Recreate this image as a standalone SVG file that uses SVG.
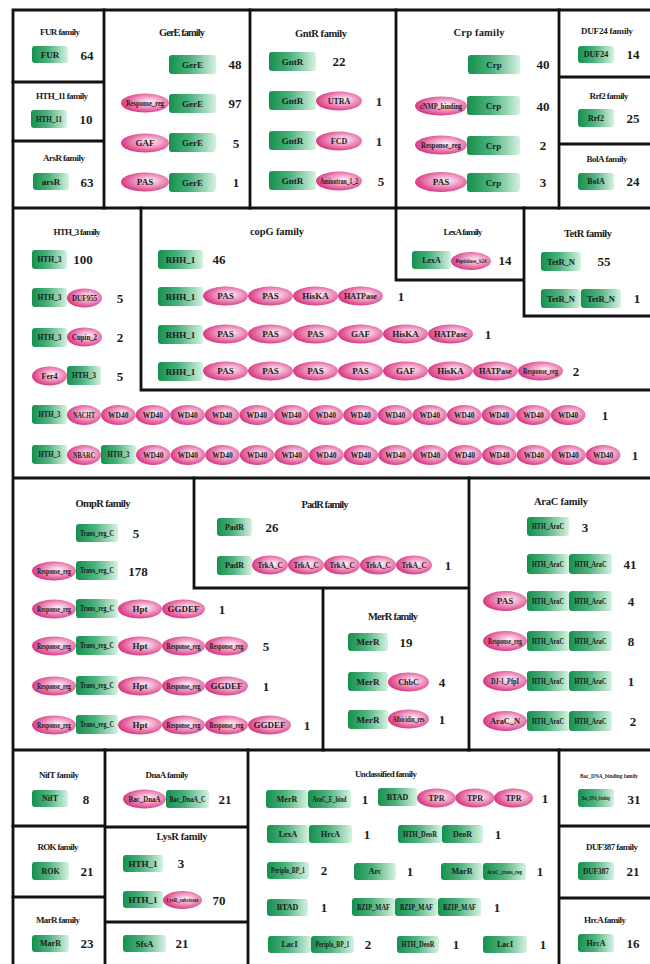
<svg xmlns="http://www.w3.org/2000/svg" width="650" height="964" viewBox="0 0 650 964">
<defs>
<linearGradient id="gg" x1="0" y1="0" x2="1" y2="0">
<stop offset="0" stop-color="#16904e"/>
<stop offset="0.45" stop-color="#4cb27c"/>
<stop offset="1" stop-color="#d6f2e2"/>
</linearGradient>
<radialGradient id="pg" cx="0.58" cy="0.45" r="0.6" fx="0.6" fy="0.42">
<stop offset="0" stop-color="#fdf1f7"/>
<stop offset="0.4" stop-color="#f2a8cb"/>
<stop offset="1" stop-color="#d8307e"/>
</radialGradient>
<style>
.fr{fill:none;stroke:#111;stroke-width:2.8;stroke-linecap:square}
.g{fill:url(#gg)}
.p{fill:url(#pg)}
text{font-family:"Liberation Serif","Times New Roman",serif;font-weight:bold;fill:#1c1c1c;text-anchor:middle;dominant-baseline:central}
.h{font-size:9px}
.hb{font-size:10.5px}
.n{font-size:13px}
.t{font-size:9px}
.s{font-size:8px}
.xs{font-size:7.5px}
</style>
</defs>
<rect width="650" height="964" fill="#fff"/>
<g id="frames" class="fr">
<path d="M13,10H650M13,10V964M13,208H650M13,478H650M13,750H650"/>
<path d="M104,10V208M250,10V208M396,10V208M559,10V208M13,82H104M13,141H104M559,77H650M559,144H650"/>
<path d="M141,208V390H650M396,208V280H524M524,208V316H650"/>
<path d="M194,478V588H469M469,478V750M323,588V750"/>
<path d="M105,750V964M13,826H105M13,897H105M248,750V964M105,827H248M105,922H248M559,750V964M559,826H650M559,898H650"/>
</g>
<g id="connectors"/>

<g id="fur-family">
<text class="h" x="60" y="32" textLength="40">FUR family</text>
<g id="fur-1"><rect class="g" x="32" y="46" width="36" height="17" rx="3"/><text class="t" x="50" y="54.5">FUR</text><text class="n" x="87" y="55">64</text></g>
</g>
<g id="hth11-family">
<text class="h" x="62" y="96" textLength="52">HTH_11 family</text>
<g id="hth11-1"><rect class="g" x="31" y="110" width="36" height="18" rx="3"/><text class="t" x="49" y="119" textLength="26" lengthAdjust="spacingAndGlyphs">HTH_11</text><text class="n" x="86" y="119">10</text></g>
</g>
<g id="arsr-family">
<text class="h" x="64" y="158" textLength="42">ArsR family</text>
<g id="arsr-1"><rect class="g" x="33" y="173" width="36" height="17" rx="3"/><text class="t" x="51" y="181.5">arsR</text><text class="n" x="87" y="182">63</text></g>
</g>

<g id="gere-family">
<text class="hb" x="182" y="32" textLength="46">GerE family</text>
<g id="gere-1"><rect class="g" x="169" y="55" width="47" height="19" rx="3"/><text class="t" x="192.5" y="64.5">GerE</text><text class="n" x="235" y="64">48</text></g>
<g id="gere-2"><ellipse class="p" cx="145" cy="103" rx="24" ry="9.5"/><text class="s" x="145" y="103" textLength="38" lengthAdjust="spacingAndGlyphs">Response_reg</text><rect class="g" x="169" y="94" width="47" height="19" rx="3"/><text class="t" x="192.5" y="103.5">GerE</text><text class="n" x="235" y="103">97</text></g>
<g id="gere-3"><ellipse class="p" cx="145" cy="143" rx="24" ry="9.5"/><text class="t" x="145" y="143">GAF</text><rect class="g" x="169" y="133" width="47" height="19" rx="3"/><text class="t" x="192.5" y="142.5">GerE</text><text class="n" x="236" y="143">5</text></g>
<g id="gere-4"><ellipse class="p" cx="145" cy="182" rx="24" ry="9.5"/><text class="t" x="145" y="182">PAS</text><rect class="g" x="169" y="173" width="47" height="19" rx="3"/><text class="t" x="192.5" y="182.5">GerE</text><text class="n" x="236" y="182">1</text></g>
</g>

<g id="gntr-family">
<text class="hb" x="321" y="33" textLength="52">GntR family</text>
<g id="gntr-1"><rect class="g" x="269" y="52" width="47" height="19" rx="3"/><text class="t" x="292.5" y="61.5">GntR</text><text class="n" x="339" y="61">22</text></g>
<g id="gntr-2"><rect class="g" x="269" y="91" width="47" height="19" rx="3"/><text class="t" x="292.5" y="100.5">GntR</text><ellipse class="p" cx="339" cy="101" rx="23" ry="9.5"/><text class="s" x="339" y="101">UTRA</text><text class="n" x="379" y="101">1</text></g>
<g id="gntr-3"><rect class="g" x="269" y="131" width="47" height="19" rx="3"/><text class="t" x="292.5" y="140.5">GntR</text><ellipse class="p" cx="339" cy="141" rx="23" ry="9.5"/><text class="s" x="339" y="141">FCD</text><text class="n" x="379" y="141">1</text></g>
<g id="gntr-4"><rect class="g" x="269" y="171" width="47" height="19" rx="3"/><text class="t" x="292.5" y="180.5">GntR</text><ellipse class="p" cx="339" cy="181" rx="23" ry="9.5"/><text class="xs" x="339" y="181" textLength="38" lengthAdjust="spacingAndGlyphs">Aminotran_1_2</text><text class="n" x="381" y="181">5</text></g>
</g>

<g id="crp-family">
<text class="hb" x="479" y="32" textLength="51">Crp family</text>
<g id="crp-1"><rect class="g" x="468" y="55" width="52" height="19" rx="3"/><text class="t" x="494" y="64.5">Crp</text><text class="n" x="543" y="64">40</text></g>
<g id="crp-2"><ellipse class="p" cx="441" cy="106" rx="26" ry="9.5"/><text class="s" x="441" y="106" textLength="42" lengthAdjust="spacingAndGlyphs">cNMP_binding</text><rect class="g" x="467" y="96" width="53" height="19" rx="3"/><text class="t" x="493.5" y="105.5">Crp</text><text class="n" x="543" y="106">40</text></g>
<g id="crp-3"><ellipse class="p" cx="441" cy="145" rx="26" ry="9.5"/><text class="s" x="441" y="145" textLength="40" lengthAdjust="spacingAndGlyphs">Response_reg</text><rect class="g" x="467" y="136" width="53" height="19" rx="3"/><text class="t" x="493.5" y="145.5">Crp</text><text class="n" x="543" y="145">2</text></g>
<g id="crp-4"><ellipse class="p" cx="441" cy="182" rx="26" ry="10"/><text class="t" x="441" y="182">PAS</text><rect class="g" x="467" y="173" width="53" height="19" rx="3"/><text class="t" x="493.5" y="182.5">Crp</text><text class="n" x="543" y="182">3</text></g>
</g>

<g id="duf24-family">
<text class="h" x="607" y="31" textLength="52">DUF24 family</text>
<g id="duf24-1"><rect class="g" x="578" y="46" width="36" height="17" rx="3"/><text class="s" x="596" y="54.5">DUF24</text><text class="n" x="633" y="54">14</text></g>
</g>
<g id="rrf2-family">
<text class="h" x="609" y="96" textLength="39">Rrf2 family</text>
<g id="rrf2-1"><rect class="g" x="578" y="109" width="36" height="18" rx="3"/><text class="s" x="596" y="118">Rrf2</text><text class="n" x="633" y="118">25</text></g>
</g>
<g id="bola-family">
<text class="h" x="607" y="159" textLength="41">BolA family</text>
<g id="bola-1"><rect class="g" x="578" y="173" width="36" height="17" rx="3"/><text class="s" x="596" y="181.5">BolA</text><text class="n" x="633" y="181">24</text></g>
</g>

<g id="hth3-family">
<text class="h" x="77" y="232" textLength="47">HTH_3 family</text>
<g id="hth3-1"><rect class="g" x="32" y="250" width="35" height="19" rx="3"/><text class="s" x="49.5" y="259.5" textLength="24" lengthAdjust="spacingAndGlyphs">HTH_3</text><text class="n" x="83" y="259">100</text></g>
<g id="hth3-2"><rect class="g" x="32" y="288" width="35" height="19" rx="3"/><text class="s" x="49.5" y="297.5" textLength="24" lengthAdjust="spacingAndGlyphs">HTH_3</text><ellipse class="p" cx="84.5" cy="298" rx="17.5" ry="9.5"/><text class="s" x="84.5" y="298" textLength="25" lengthAdjust="spacingAndGlyphs">DUF955</text><text class="n" x="120" y="298">5</text></g>
<g id="hth3-3"><rect class="g" x="32" y="328" width="35" height="19" rx="3"/><text class="s" x="49.5" y="337.5" textLength="24" lengthAdjust="spacingAndGlyphs">HTH_3</text><ellipse class="p" cx="84.5" cy="337" rx="17.5" ry="9.5"/><text class="s" x="84.5" y="337" textLength="25" lengthAdjust="spacingAndGlyphs">Cupin_2</text><text class="n" x="120" y="337">2</text></g>
<g id="hth3-4"><ellipse class="p" cx="49.5" cy="376" rx="17.5" ry="9.5"/><text class="s" x="49.5" y="376">Fer4</text><rect class="g" x="67" y="366" width="34" height="19" rx="3"/><text class="s" x="84" y="375.5" textLength="24" lengthAdjust="spacingAndGlyphs">HTH_3</text><text class="n" x="120" y="376">5</text></g>
</g>

<g id="copg-family">
<text class="hb" x="277" y="231" textLength="54">copG family</text>
<g id="copg-1"><rect class="g" x="158" y="250" width="45" height="19" rx="3"/><text class="t" x="180.5" y="259.5">RHH_1</text><text class="n" x="219" y="259">46</text></g>
<g id="copg-2"><rect class="g" x="158" y="287" width="45" height="19" rx="3"/><text class="t" x="180.5" y="296.5">RHH_1</text>
<ellipse class="p" cx="225.5" cy="296" rx="22.5" ry="9.5"/><text class="t" x="225.5" y="296">PAS</text>
<ellipse class="p" cx="270.5" cy="296" rx="22.5" ry="9.5"/><text class="t" x="270.5" y="296">PAS</text>
<ellipse class="p" cx="315.5" cy="296" rx="22.5" ry="9.5"/><text class="t" x="315.5" y="296">HisKA</text>
<ellipse class="p" cx="360.5" cy="296" rx="22.5" ry="9.5"/><text class="t" x="360.5" y="296" textLength="33" lengthAdjust="spacingAndGlyphs">HATPase</text>
<text class="n" x="401" y="296">1</text></g>
<g id="copg-3"><rect class="g" x="158" y="325" width="45" height="19" rx="3"/><text class="t" x="180.5" y="334.5">RHH_1</text>
<ellipse class="p" cx="225.5" cy="334" rx="22.5" ry="9.5"/><text class="t" x="225.5" y="334">PAS</text>
<ellipse class="p" cx="270.5" cy="334" rx="22.5" ry="9.5"/><text class="t" x="270.5" y="334">PAS</text>
<ellipse class="p" cx="315.5" cy="334" rx="22.5" ry="9.5"/><text class="t" x="315.5" y="334">PAS</text>
<ellipse class="p" cx="360.5" cy="334" rx="22.5" ry="9.5"/><text class="t" x="360.5" y="334">GAF</text>
<ellipse class="p" cx="405.5" cy="334" rx="22.5" ry="9.5"/><text class="t" x="405.5" y="334">HisKA</text>
<ellipse class="p" cx="450.5" cy="334" rx="22.5" ry="9.5"/><text class="t" x="450.5" y="334" textLength="33" lengthAdjust="spacingAndGlyphs">HATPase</text>
<text class="n" x="488" y="334">1</text></g>
<g id="copg-4"><rect class="g" x="158" y="362" width="45" height="19" rx="3"/><text class="t" x="180.5" y="371.5">RHH_1</text>
<ellipse class="p" cx="225.5" cy="371" rx="22.5" ry="9.5"/><text class="t" x="225.5" y="371">PAS</text>
<ellipse class="p" cx="270.5" cy="371" rx="22.5" ry="9.5"/><text class="t" x="270.5" y="371">PAS</text>
<ellipse class="p" cx="315.5" cy="371" rx="22.5" ry="9.5"/><text class="t" x="315.5" y="371">PAS</text>
<ellipse class="p" cx="360.5" cy="371" rx="22.5" ry="9.5"/><text class="t" x="360.5" y="371">PAS</text>
<ellipse class="p" cx="405.5" cy="371" rx="22.5" ry="9.5"/><text class="t" x="405.5" y="371">GAF</text>
<ellipse class="p" cx="450.5" cy="371" rx="22.5" ry="9.5"/><text class="t" x="450.5" y="371">HisKA</text>
<ellipse class="p" cx="495.5" cy="371" rx="22.5" ry="9.5"/><text class="t" x="495.5" y="371" textLength="33" lengthAdjust="spacingAndGlyphs">HATPase</text>
<ellipse class="p" cx="540.5" cy="371" rx="22.5" ry="9.5"/><text class="xs" x="540.5" y="371" textLength="35" lengthAdjust="spacingAndGlyphs">Response_reg</text>
<text class="n" x="576" y="371">2</text></g>
</g>

<g id="lexa-family">
<text class="h" x="463" y="232" textLength="39">LexA family</text>
<g id="lexa-1"><rect class="g" x="412" y="251" width="39" height="18" rx="3"/><text class="s" x="431.5" y="260">LexA</text><ellipse class="p" cx="471" cy="261" rx="20" ry="9"/><text x="471" y="261" style="font-size:7px" textLength="31" lengthAdjust="spacingAndGlyphs">Peptidase_S24</text><text class="n" x="505" y="260">14</text></g>
</g>

<g id="tetr-family">
<text class="hb" x="588" y="233" textLength="48">TetR family</text>
<g id="tetr-1"><rect class="g" x="541" y="252" width="40" height="19" rx="3"/><text class="t" x="561" y="261.5" textLength="28" lengthAdjust="spacingAndGlyphs">TetR_N</text><text class="n" x="604" y="261">55</text></g>
<g id="tetr-2"><rect class="g" x="541" y="289" width="40" height="19" rx="3"/><text class="t" x="561" y="298.5" textLength="28" lengthAdjust="spacingAndGlyphs">TetR_N</text><rect class="g" x="581" y="289" width="40" height="19" rx="3"/><text class="t" x="601" y="298.5" textLength="28" lengthAdjust="spacingAndGlyphs">TetR_N</text><text class="n" x="637" y="298">1</text></g>
</g>

<g id="hth3-wd40-1">
<rect class="g" x="32" y="405" width="35" height="19" rx="3"/><text class="xs" x="49.5" y="414.5" textLength="22" lengthAdjust="spacingAndGlyphs">HTH_3</text>
<ellipse class="p" cx="84" cy="415" rx="17" ry="10"/><text class="xs" x="84" y="415" textLength="22" lengthAdjust="spacingAndGlyphs">NACHT</text>
<ellipse class="p" cx="118.3" cy="415" rx="17.3" ry="10"/><text class="xs" x="118.3" y="415">WD40</text>
<ellipse class="p" cx="152.9" cy="415" rx="17.3" ry="10"/><text class="xs" x="152.9" y="415">WD40</text>
<ellipse class="p" cx="187.5" cy="415" rx="17.3" ry="10"/><text class="xs" x="187.5" y="415">WD40</text>
<ellipse class="p" cx="222.1" cy="415" rx="17.3" ry="10"/><text class="xs" x="222.1" y="415">WD40</text>
<ellipse class="p" cx="256.7" cy="415" rx="17.3" ry="10"/><text class="xs" x="256.7" y="415">WD40</text>
<ellipse class="p" cx="291.3" cy="415" rx="17.3" ry="10"/><text class="xs" x="291.3" y="415">WD40</text>
<ellipse class="p" cx="325.9" cy="415" rx="17.3" ry="10"/><text class="xs" x="325.9" y="415">WD40</text>
<ellipse class="p" cx="360.5" cy="415" rx="17.3" ry="10"/><text class="xs" x="360.5" y="415">WD40</text>
<ellipse class="p" cx="395.1" cy="415" rx="17.3" ry="10"/><text class="xs" x="395.1" y="415">WD40</text>
<ellipse class="p" cx="429.7" cy="415" rx="17.3" ry="10"/><text class="xs" x="429.7" y="415">WD40</text>
<ellipse class="p" cx="464.3" cy="415" rx="17.3" ry="10"/><text class="xs" x="464.3" y="415">WD40</text>
<ellipse class="p" cx="498.9" cy="415" rx="17.3" ry="10"/><text class="xs" x="498.9" y="415">WD40</text>
<ellipse class="p" cx="533.5" cy="415" rx="17.3" ry="10"/><text class="xs" x="533.5" y="415">WD40</text>
<ellipse class="p" cx="568.1" cy="415" rx="17.3" ry="10"/><text class="xs" x="568.1" y="415">WD40</text>
<text class="n" x="605" y="415">1</text>
</g>
<g id="hth3-wd40-2">
<rect class="g" x="32" y="445" width="35" height="19" rx="3"/><text class="xs" x="49.5" y="454.5" textLength="22" lengthAdjust="spacingAndGlyphs">HTH_3</text>
<ellipse class="p" cx="84" cy="455" rx="17" ry="10"/><text class="xs" x="84" y="455" textLength="22" lengthAdjust="spacingAndGlyphs">NBARC</text>
<rect class="g" x="101" y="445" width="35" height="19" rx="3"/><text class="xs" x="118.5" y="454.5" textLength="22" lengthAdjust="spacingAndGlyphs">HTH_3</text>
<ellipse class="p" cx="153.3" cy="455" rx="17.3" ry="10"/><text class="xs" x="153.3" y="455">WD40</text>
<ellipse class="p" cx="187.9" cy="455" rx="17.3" ry="10"/><text class="xs" x="187.9" y="455">WD40</text>
<ellipse class="p" cx="222.5" cy="455" rx="17.3" ry="10"/><text class="xs" x="222.5" y="455">WD40</text>
<ellipse class="p" cx="257.1" cy="455" rx="17.3" ry="10"/><text class="xs" x="257.1" y="455">WD40</text>
<ellipse class="p" cx="291.7" cy="455" rx="17.3" ry="10"/><text class="xs" x="291.7" y="455">WD40</text>
<ellipse class="p" cx="326.3" cy="455" rx="17.3" ry="10"/><text class="xs" x="326.3" y="455">WD40</text>
<ellipse class="p" cx="360.9" cy="455" rx="17.3" ry="10"/><text class="xs" x="360.9" y="455">WD40</text>
<ellipse class="p" cx="395.5" cy="455" rx="17.3" ry="10"/><text class="xs" x="395.5" y="455">WD40</text>
<ellipse class="p" cx="430.1" cy="455" rx="17.3" ry="10"/><text class="xs" x="430.1" y="455">WD40</text>
<ellipse class="p" cx="464.7" cy="455" rx="17.3" ry="10"/><text class="xs" x="464.7" y="455">WD40</text>
<ellipse class="p" cx="499.3" cy="455" rx="17.3" ry="10"/><text class="xs" x="499.3" y="455">WD40</text>
<ellipse class="p" cx="533.9" cy="455" rx="17.3" ry="10"/><text class="xs" x="533.9" y="455">WD40</text>
<ellipse class="p" cx="568.5" cy="455" rx="17.3" ry="10"/><text class="xs" x="568.5" y="455">WD40</text>
<ellipse class="p" cx="603.1" cy="455" rx="17.3" ry="10"/><text class="xs" x="603.1" y="455">WD40</text>
<text class="n" x="635" y="455">1</text>
</g>

<g id="ompr-family">
<text class="hb" x="103" y="503" textLength="55">OmpR family</text>
<g id="ompr-1"><rect class="g" x="76" y="524" width="42" height="18" rx="3"/><text class="s" x="97" y="533" textLength="34" lengthAdjust="spacingAndGlyphs">Trans_reg_C</text><text class="n" x="136" y="533">5</text></g>
<g id="ompr-2"><ellipse class="p" cx="54" cy="571" rx="22" ry="9.5"/><text class="xs" x="54" y="571" textLength="34" lengthAdjust="spacingAndGlyphs">Response_reg</text><rect class="g" x="76" y="561" width="42" height="19" rx="3"/><text class="s" x="97" y="570.5" textLength="34" lengthAdjust="spacingAndGlyphs">Trans_reg_C</text><text class="n" x="138" y="571">178</text></g>
<g id="ompr-3"><ellipse class="p" cx="54" cy="609" rx="22" ry="9.5"/><text class="xs" x="54" y="609" textLength="34" lengthAdjust="spacingAndGlyphs">Response_reg</text><rect class="g" x="76" y="599" width="42" height="19" rx="3"/><text class="s" x="97" y="608.5" textLength="34" lengthAdjust="spacingAndGlyphs">Trans_reg_C</text>
<ellipse class="p" cx="140" cy="609" rx="22" ry="9.5"/><text class="t" x="140" y="609">Hpt</text>
<ellipse class="p" cx="183.5" cy="609" rx="21.5" ry="9.5"/><text class="t" x="183.5" y="609">GGDEF</text>
<text class="n" x="222" y="609">1</text></g>
<g id="ompr-4"><ellipse class="p" cx="54" cy="646" rx="22" ry="9.5"/><text class="xs" x="54" y="646" textLength="34" lengthAdjust="spacingAndGlyphs">Response_reg</text><rect class="g" x="76" y="636" width="42" height="19" rx="3"/><text class="s" x="97" y="645.5" textLength="34" lengthAdjust="spacingAndGlyphs">Trans_reg_C</text>
<ellipse class="p" cx="140" cy="646" rx="22" ry="9.5"/><text class="t" x="140" y="646">Hpt</text>
<ellipse class="p" cx="183.5" cy="646" rx="21.5" ry="9.5"/><text class="xs" x="183.5" y="646" textLength="34" lengthAdjust="spacingAndGlyphs">Response_reg</text>
<ellipse class="p" cx="226.5" cy="646" rx="21.5" ry="9.5"/><text class="xs" x="226.5" y="646" textLength="34" lengthAdjust="spacingAndGlyphs">Response_reg</text>
<text class="n" x="266" y="646">5</text></g>
<g id="ompr-5"><ellipse class="p" cx="54" cy="686" rx="22" ry="9.5"/><text class="xs" x="54" y="686" textLength="34" lengthAdjust="spacingAndGlyphs">Response_reg</text><rect class="g" x="76" y="676" width="42" height="19" rx="3"/><text class="s" x="97" y="685.5" textLength="34" lengthAdjust="spacingAndGlyphs">Trans_reg_C</text>
<ellipse class="p" cx="140" cy="686" rx="22" ry="9.5"/><text class="t" x="140" y="686">Hpt</text>
<ellipse class="p" cx="183.5" cy="686" rx="21.5" ry="9.5"/><text class="xs" x="183.5" y="686" textLength="34" lengthAdjust="spacingAndGlyphs">Response_reg</text>
<ellipse class="p" cx="226.5" cy="686" rx="21.5" ry="9.5"/><text class="t" x="226.5" y="686">GGDEF</text>
<text class="n" x="266" y="686">1</text></g>
<g id="ompr-6"><ellipse class="p" cx="54" cy="725" rx="22" ry="9.5"/><text class="xs" x="54" y="725" textLength="34" lengthAdjust="spacingAndGlyphs">Response_reg</text><rect class="g" x="76" y="715" width="42" height="19" rx="3"/><text class="s" x="97" y="724.5" textLength="34" lengthAdjust="spacingAndGlyphs">Trans_reg_C</text>
<ellipse class="p" cx="140" cy="725" rx="22" ry="9.5"/><text class="t" x="140" y="725">Hpt</text>
<ellipse class="p" cx="183.5" cy="725" rx="21.5" ry="9.5"/><text class="xs" x="183.5" y="725" textLength="34" lengthAdjust="spacingAndGlyphs">Response_reg</text>
<ellipse class="p" cx="226.5" cy="725" rx="21.5" ry="9.5"/><text class="xs" x="226.5" y="725" textLength="34" lengthAdjust="spacingAndGlyphs">Response_reg</text>
<ellipse class="p" cx="269.5" cy="725" rx="21.5" ry="9.5"/><text class="t" x="269.5" y="725">GGDEF</text>
<text class="n" x="307" y="725">1</text></g>
</g>

<g id="padr-family">
<text class="hb" x="325" y="504" textLength="47">PadR family</text>
<g id="padr-1"><rect class="g" x="217" y="518" width="35" height="18" rx="3"/><text class="s" x="234.5" y="527">PadR</text><text class="n" x="272" y="527">26</text></g>
<g id="padr-2"><rect class="g" x="217" y="556" width="35" height="19" rx="3"/><text class="s" x="234.5" y="565.5">PadR</text>
<ellipse class="p" cx="270" cy="565" rx="18" ry="9.5"/><text class="s" x="270" y="565" textLength="25" lengthAdjust="spacingAndGlyphs">TrkA_C</text>
<ellipse class="p" cx="306" cy="565" rx="18" ry="9.5"/><text class="s" x="306" y="565" textLength="25" lengthAdjust="spacingAndGlyphs">TrkA_C</text>
<ellipse class="p" cx="342" cy="565" rx="18" ry="9.5"/><text class="s" x="342" y="565" textLength="25" lengthAdjust="spacingAndGlyphs">TrkA_C</text>
<ellipse class="p" cx="378" cy="565" rx="18" ry="9.5"/><text class="s" x="378" y="565" textLength="25" lengthAdjust="spacingAndGlyphs">TrkA_C</text>
<ellipse class="p" cx="414" cy="565" rx="18" ry="9.5"/><text class="s" x="414" y="565" textLength="25" lengthAdjust="spacingAndGlyphs">TrkA_C</text>
<text class="n" x="448" y="565">1</text></g>
</g>

<g id="merr-family">
<text class="hb" x="393" y="616" textLength="50">MerR family</text>
<g id="merr-1"><rect class="g" x="348" y="633" width="40" height="18" rx="3"/><text class="t" x="368" y="642">MerR</text><text class="n" x="406" y="642">19</text></g>
<g id="merr-2"><rect class="g" x="348" y="672" width="40" height="19" rx="3"/><text class="t" x="368" y="681.5">MerR</text><ellipse class="p" cx="408.5" cy="682" rx="20.5" ry="9.5"/><text class="s" x="408.5" y="682">ChbC</text><text class="n" x="442" y="682">4</text></g>
<g id="merr-3"><rect class="g" x="348" y="710" width="40" height="19" rx="3"/><text class="t" x="368" y="719.5">MerR</text><ellipse class="p" cx="408.5" cy="719" rx="20.5" ry="9.5"/><text class="xs" x="408.5" y="719" textLength="32" lengthAdjust="spacingAndGlyphs">Albicidin_res</text><text class="n" x="442" y="719">1</text></g>
</g>

<g id="arac-family">
<text class="hb" x="561" y="501" textLength="54">AraC family</text>
<g id="arac-1"><rect class="g" x="527" y="517" width="42" height="19" rx="3"/><text class="s" x="548" y="526.5" textLength="32" lengthAdjust="spacingAndGlyphs">HTH_AraC</text><text class="n" x="585" y="527">3</text></g>
<g id="arac-2"><rect class="g" x="527" y="554" width="42" height="20" rx="3"/><text class="s" x="548" y="564" textLength="32" lengthAdjust="spacingAndGlyphs">HTH_AraC</text><rect class="g" x="569" y="554" width="43" height="20" rx="3"/><text class="s" x="590.5" y="564" textLength="32" lengthAdjust="spacingAndGlyphs">HTH_AraC</text><text class="n" x="630" y="564">41</text></g>
<g id="arac-3"><ellipse class="p" cx="505" cy="601" rx="22" ry="10"/><text class="t" x="505" y="601">PAS</text><rect class="g" x="527" y="591" width="42" height="20" rx="3"/><text class="s" x="548" y="601" textLength="32" lengthAdjust="spacingAndGlyphs">HTH_AraC</text><rect class="g" x="569" y="591" width="43" height="20" rx="3"/><text class="s" x="590.5" y="601" textLength="32" lengthAdjust="spacingAndGlyphs">HTH_AraC</text><text class="n" x="631" y="601">4</text></g>
<g id="arac-4"><ellipse class="p" cx="505" cy="641" rx="22" ry="10"/><text class="xs" x="505" y="641" textLength="34" lengthAdjust="spacingAndGlyphs">Response_reg</text><rect class="g" x="527" y="631" width="42" height="20" rx="3"/><text class="s" x="548" y="641" textLength="32" lengthAdjust="spacingAndGlyphs">HTH_AraC</text><rect class="g" x="569" y="631" width="43" height="20" rx="3"/><text class="s" x="590.5" y="641" textLength="32" lengthAdjust="spacingAndGlyphs">HTH_AraC</text><text class="n" x="631" y="641">8</text></g>
<g id="arac-5"><ellipse class="p" cx="505" cy="681" rx="22" ry="10"/><text class="s" x="505" y="681" textLength="28" lengthAdjust="spacingAndGlyphs">DJ-1_PfpI</text><rect class="g" x="527" y="671" width="42" height="20" rx="3"/><text class="s" x="548" y="681" textLength="32" lengthAdjust="spacingAndGlyphs">HTH_AraC</text><rect class="g" x="569" y="671" width="43" height="20" rx="3"/><text class="s" x="590.5" y="681" textLength="32" lengthAdjust="spacingAndGlyphs">HTH_AraC</text><text class="n" x="631" y="681">1</text></g>
<g id="arac-6"><ellipse class="p" cx="505" cy="721" rx="22" ry="10"/><text class="t" x="505" y="721" textLength="30" lengthAdjust="spacingAndGlyphs">AraC_N</text><rect class="g" x="527" y="711" width="42" height="20" rx="3"/><text class="s" x="548" y="721" textLength="32" lengthAdjust="spacingAndGlyphs">HTH_AraC</text><rect class="g" x="569" y="711" width="43" height="20" rx="3"/><text class="s" x="590.5" y="721" textLength="32" lengthAdjust="spacingAndGlyphs">HTH_AraC</text><text class="n" x="633" y="721">2</text></g>
</g>

<g id="nift-family">
<text class="h" x="59" y="775" textLength="40">NifT family</text>
<g id="nift-1"><rect class="g" x="32" y="790" width="36" height="17" rx="3"/><text class="s" x="50" y="798.5">NifT</text><text class="n" x="86" y="799">8</text></g>
</g>
<g id="rok-family">
<text class="h" x="58" y="847" textLength="41">ROK family</text>
<g id="rok-1"><rect class="g" x="32" y="862" width="37" height="18" rx="3"/><text class="s" x="50.5" y="871">ROK</text><text class="n" x="87" y="871">21</text></g>
</g>
<g id="marr-family">
<text class="h" x="58" y="920" textLength="44">MarR family</text>
<g id="marr-1"><rect class="g" x="32" y="935" width="37" height="17" rx="3"/><text class="s" x="50.5" y="943.5">MarR</text><text class="n" x="87" y="943">23</text></g>
</g>
<g id="dnaa-family">
<text class="h" x="167" y="775" textLength="43">DnaA family</text>
<g id="dnaa-1"><ellipse class="p" cx="144.5" cy="799" rx="21.5" ry="9.5"/><text class="s" x="144.5" y="799" textLength="32" lengthAdjust="spacingAndGlyphs">Bac_DnaA</text><rect class="g" x="166" y="790" width="43" height="18" rx="3"/><text class="s" x="187.5" y="799" textLength="36" lengthAdjust="spacingAndGlyphs">Bac_DnaA_C</text><text class="n" x="225" y="799">21</text></g>
</g>
<g id="lysr-family">
<text class="hb" x="182" y="836" textLength="51">LysR family</text>
<g id="lysr-1"><rect class="g" x="123" y="855" width="40" height="17" rx="3"/><text class="t" x="143" y="863.5">HTH_1</text><text class="n" x="181" y="863">3</text></g>
<g id="lysr-2"><rect class="g" x="123" y="891" width="40" height="17" rx="3"/><text class="t" x="143" y="899.5">HTH_1</text><ellipse class="p" cx="182.5" cy="900" rx="19.5" ry="9"/><text x="182.5" y="900" style="font-size:7px" textLength="32" lengthAdjust="spacingAndGlyphs">LysR_substrate</text><text class="n" x="219" y="900">70</text></g>
</g>
<g id="sfsa-family">
<g id="sfsa-1"><rect class="g" x="123" y="935" width="43" height="17" rx="3"/><text class="t" x="144.5" y="943.5">SfsA</text><text class="n" x="182" y="943">21</text></g>
</g>

<g id="unclassified-family">
<text class="h" x="386" y="774" textLength="62">Unclassified family</text>
<g id="uncl-1"><rect class="g" x="266" y="790" width="42" height="18" rx="3"/><text class="s" x="287" y="799">MerR</text><rect class="g" x="308" y="790" width="43" height="18" rx="3"/><text class="xs" x="329.5" y="799" textLength="34" lengthAdjust="spacingAndGlyphs">AraC_E_bind</text><text class="n" x="365" y="799">1</text></g>
<g id="uncl-2"><rect class="g" x="378" y="788" width="39" height="18" rx="3"/><text class="s" x="397.5" y="797">BTAD</text>
<ellipse class="p" cx="436.5" cy="798" rx="19.5" ry="9.5"/><text class="s" x="436.5" y="798">TPR</text>
<ellipse class="p" cx="475" cy="798" rx="19.5" ry="9.5"/><text class="s" x="475" y="798">TPR</text>
<ellipse class="p" cx="513.5" cy="798" rx="19.5" ry="9.5"/><text class="s" x="513.5" y="798">TPR</text>
<text class="n" x="545" y="798">1</text></g>
<g id="uncl-3"><rect class="g" x="267" y="825" width="42" height="18" rx="3"/><text class="s" x="288" y="834">LexA</text><rect class="g" x="309" y="825" width="43" height="18" rx="3"/><text class="s" x="330.5" y="834">HrcA</text><text class="n" x="367" y="834">1</text></g>
<g id="uncl-4"><rect class="g" x="398" y="825" width="44" height="18" rx="3"/><text class="s" x="420" y="834" textLength="34" lengthAdjust="spacingAndGlyphs">HTH_DeoR</text><rect class="g" x="442" y="825" width="41" height="18" rx="3"/><text class="s" x="462.5" y="834">DeoR</text><text class="n" x="498" y="834">1</text></g>
<g id="uncl-5"><rect class="g" x="267" y="862" width="42" height="17" rx="3"/><text class="xs" x="288" y="870.5" textLength="34" lengthAdjust="spacingAndGlyphs">Peripla_BP_1</text><text class="n" x="324" y="870">2</text></g>
<g id="uncl-6"><rect class="g" x="354" y="863" width="42" height="17" rx="3"/><text class="s" x="375" y="871.5">Arc</text><text class="n" x="410" y="871">1</text></g>
<g id="uncl-7"><rect class="g" x="441" y="863" width="42" height="17" rx="3"/><text class="s" x="462" y="871.5">MarR</text><rect class="g" x="483" y="863" width="43" height="17" rx="3"/><text x="504.5" y="871.5" style="font-size:7px" textLength="35" lengthAdjust="spacingAndGlyphs">AraC_trans_reg</text><text class="n" x="540" y="871">1</text></g>
<g id="uncl-8"><rect class="g" x="267" y="899" width="41" height="17" rx="3"/><text class="s" x="287.5" y="907.5">BTAD</text><text class="n" x="324" y="907">1</text></g>
<g id="uncl-9"><rect class="g" x="352" y="898" width="43" height="18" rx="3"/><text class="s" x="373.5" y="907" textLength="33" lengthAdjust="spacingAndGlyphs">BZIP_MAF</text><rect class="g" x="395" y="898" width="43" height="18" rx="3"/><text class="s" x="416.5" y="907" textLength="33" lengthAdjust="spacingAndGlyphs">BZIP_MAF</text><rect class="g" x="438" y="898" width="43" height="18" rx="3"/><text class="s" x="459.5" y="907" textLength="33" lengthAdjust="spacingAndGlyphs">BZIP_MAF</text><text class="n" x="497" y="907">1</text></g>
<g id="uncl-10"><rect class="g" x="268" y="936" width="43" height="17" rx="3"/><text class="s" x="289.5" y="944.5">LacI</text><rect class="g" x="311" y="936" width="43" height="17" rx="3"/><text class="xs" x="332.5" y="944.5" textLength="34" lengthAdjust="spacingAndGlyphs">Peripla_BP_1</text><text class="n" x="368" y="944">2</text></g>
<g id="uncl-11"><rect class="g" x="397" y="936" width="42" height="17" rx="3"/><text class="s" x="418" y="944.5" textLength="33" lengthAdjust="spacingAndGlyphs">HTH_DeoR</text><text class="n" x="456" y="944">1</text></g>
<g id="uncl-12"><rect class="g" x="483" y="936" width="44" height="17" rx="3"/><text class="s" x="505" y="944.5">LacI</text><text class="n" x="543" y="944">1</text></g>
</g>

<g id="bac-dna-binding-family">
<text x="609" y="775" style="font-size:6.5px" textLength="58" lengthAdjust="spacingAndGlyphs">Bac_DNA_binding family</text>
<g id="bdb-1"><rect class="g" x="578" y="789" width="36" height="18" rx="3"/><text x="596" y="798" style="font-size:5.5px" textLength="28" lengthAdjust="spacingAndGlyphs">Bac_DNA_binding</text><text class="n" x="634" y="799">31</text></g>
</g>
<g id="duf387-family">
<text class="h" x="612" y="847" textLength="52">DUF387 family</text>
<g id="duf387-1"><rect class="g" x="578" y="862" width="36" height="18" rx="3"/><text class="s" x="596" y="871" textLength="26" lengthAdjust="spacingAndGlyphs">DUF387</text><text class="n" x="633" y="871">21</text></g>
</g>
<g id="hrca-family">
<text class="h" x="605" y="920" textLength="42">HrcA family</text>
<g id="hrca-1"><rect class="g" x="578" y="934" width="36" height="18" rx="3"/><text class="s" x="596" y="943">HrcA</text><text class="n" x="633" y="943">16</text></g>
</g>
</svg>
